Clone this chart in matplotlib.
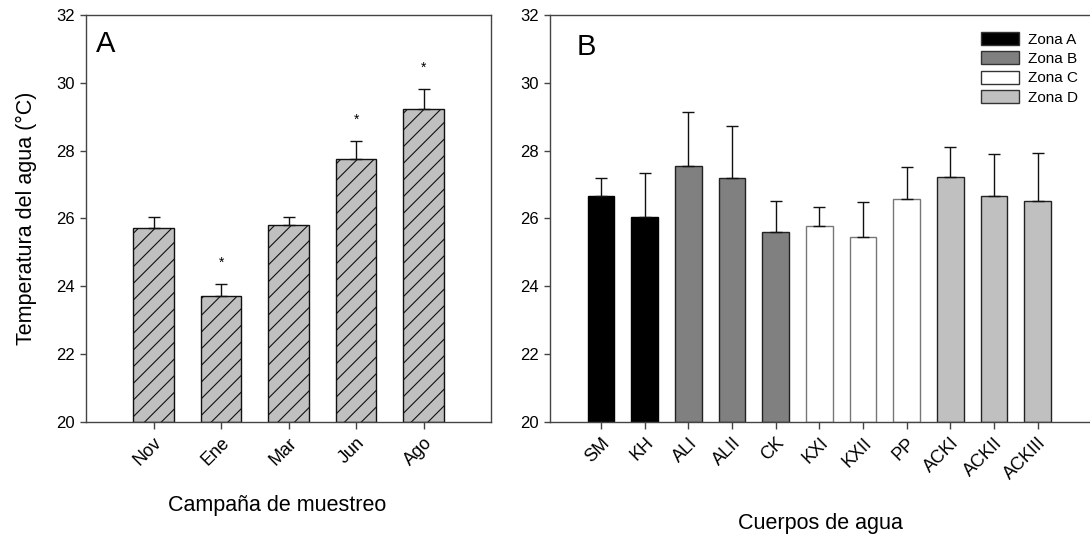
import numpy as np
import matplotlib.pyplot as plt
from matplotlib.patches import Patch

plt.rcParams['font.family'] = ['Liberation Sans', 'DejaVu Sans']
plt.rcParams['hatch.linewidth'] = 0.8

# Panel A: campañas de muestreo
campanas = ['Nov', 'Ene', 'Mar', 'Jun', 'Ago']
temp_a = [25.73, 23.71, 25.80, 27.74, 29.23]
err_a = [0.30, 0.35, 0.25, 0.55, 0.58]
signif_a = [False, True, False, True, True]

# Panel B: cuerpos de agua
cuerpos = ['SM', 'KH', 'ALI', 'ALII', 'CK', 'KXI', 'KXII', 'PP', 'ACKI', 'ACKII', 'ACKIII']
temp_b = [26.65, 26.05, 27.54, 27.18, 25.59, 25.77, 25.44, 26.57, 27.22, 26.65, 26.53]
err_b = [0.55, 1.28, 1.61, 1.55, 0.93, 0.58, 1.04, 0.94, 0.88, 1.26, 1.40]
zonas = ['A', 'A', 'B', 'B', 'B', 'C', 'C', 'C', 'D', 'D', 'D']

zona_colores = {'A': '#000000', 'B': '#808080', 'C': '#ffffff', 'D': '#c0c0c0'}
zona_bordes = {'A': '#000000', 'B': '#222222', 'C': '#777777', 'D': '#222222'}

fig = plt.figure(figsize=(10.9, 5.35), dpi=100)
ax1 = fig.add_axes([0.0789, 0.2112, 0.3716, 0.7608])
ax2 = fig.add_axes([0.5046, 0.2112, 0.4954, 0.7608])

def estilo(ax):
    for s in ['left', 'bottom', 'top', 'right']:
        ax.spines[s].set_color('#444444')
        ax.spines[s].set_linewidth(1.0)
    ax.tick_params(direction='out', length=4, width=1, color='#444444', pad=4)
    ax.tick_params(axis='y', labelsize=12)
    ax.tick_params(axis='x', length=5, labelsize=13)
    ax.set_ylim(20, 32)
    ax.set_yticks(np.arange(20, 33, 2))

# --- Panel A ---
x_a = np.arange(len(campanas))
ax1.bar(x_a, np.array(temp_a) - 20, bottom=20, width=0.6, color='#c0c0c0',
        edgecolor='#111111', linewidth=1.0, hatch='//', zorder=2)
ax1.errorbar(x_a, temp_a, yerr=[np.zeros(len(err_a)), err_a], fmt='none',
             ecolor='#111111', elinewidth=1.0, capsize=4.3, capthick=1.0, zorder=3)
for xi, v, e, s in zip(x_a, temp_a, err_a, signif_a):
    if s:
        ax1.text(xi, v + e + 0.62, '*', ha='center', va='center', fontsize=10)
ax1.set_xlim(-1, len(campanas))
ax1.set_xticks(x_a)
ax1.set_xticklabels(campanas, rotation=45, ha='right', rotation_mode='anchor')
estilo(ax1)
ax1.set_ylabel('Temperatura del agua (°C)', fontsize=15.5, labelpad=14)
ax1.set_xlabel('Campaña de muestreo', fontsize=15.5)
ax1.xaxis.set_label_coords(0.471, -0.179)
ax1.text(0.025, 0.909, 'A', transform=ax1.transAxes, fontsize=21, va='baseline')

# --- Panel B ---
x_b = np.arange(len(cuerpos))
ax2.bar(x_b, np.array(temp_b) - 20, bottom=20, width=0.61,
        color=[zona_colores[z] for z in zonas],
        edgecolor=[zona_bordes[z] for z in zonas], linewidth=1.0, zorder=2)
ax2.errorbar(x_b, temp_b, yerr=[np.zeros(len(err_b)), err_b], fmt='none',
             ecolor='#111111', elinewidth=1.0, capsize=4.3, capthick=1.0, zorder=3)
ax2.set_xlim(-1.17, 11.2)
ax2.set_xticks(x_b)
ax2.set_xticklabels(cuerpos, rotation=45, ha='right', rotation_mode='anchor')
estilo(ax2)
ax2.spines['right'].set_visible(False)
ax2.set_xlabel('Cuerpos de agua', fontsize=15.5)
ax2.xaxis.set_label_coords(0.5, -0.224)
ax2.text(0.049, 0.902, 'B', transform=ax2.transAxes, fontsize=21, va='baseline')

handles = [Patch(facecolor=zona_colores[z], edgecolor='#333333', label='Zona ' + z)
           for z in ['A', 'B', 'C', 'D']]
ax2.legend(handles=handles, loc='upper left', bbox_to_anchor=(0.799, 0.958),
           frameon=False, fontsize=11, handlelength=2.46, handleheight=0.92,
           handletextpad=0.57, labelspacing=0.3, borderpad=0, borderaxespad=0)

fig.savefig('out.png', dpi=100)
